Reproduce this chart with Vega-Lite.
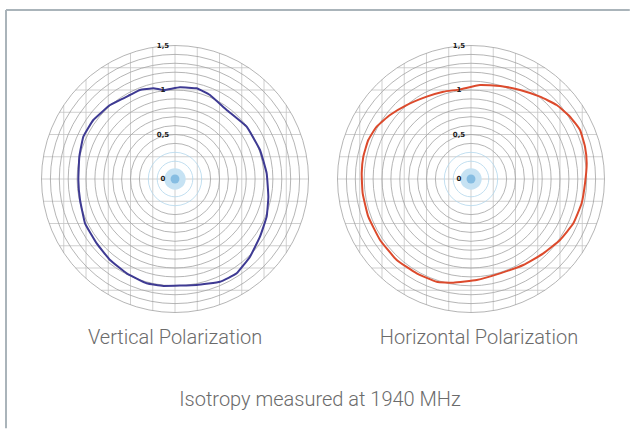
{
  "$schema": "https://vega.github.io/schema/vega-lite/v6.json",
  "width": 626,
  "height": 420,
  "autosize": "none",
  "padding": {"left": 6, "top": 10, "right": 0, "bottom": 0},
  "background": "white",
  "config": {
    "view": {"stroke": null}
  },
  "datasets": {
    "grid": [
      {"a": -1.25, "lo": -0.829, "hi": 0.829},
      {"a": -1.0, "lo": -1.118, "hi": 1.118},
      {"a": -0.75, "lo": -1.299, "hi": 1.299},
      {"a": -0.5, "lo": -1.414, "hi": 1.414},
      {"a": -0.25, "lo": -1.479, "hi": 1.479},
      {"a": 0, "lo": -1.5, "hi": 1.5},
      {"a": 0.25, "lo": -1.479, "hi": 1.479},
      {"a": 0.5, "lo": -1.414, "hi": 1.414},
      {"a": 0.75, "lo": -1.299, "hi": 1.299},
      {"a": 1.0, "lo": -1.118, "hi": 1.118},
      {"a": 1.25, "lo": -0.829, "hi": 0.829}
    ],
    "rings": [
      {"r": 0.1, "kind": "inner"}, {"r": 0.2, "kind": "inner"}, {"r": 0.3, "kind": "inner"},
      {"r": 0.4, "kind": "outer"}, {"r": 0.5, "kind": "outer"}, {"r": 0.6, "kind": "outer"},
      {"r": 0.7, "kind": "outer"}, {"r": 0.8, "kind": "outer"}, {"r": 0.9, "kind": "outer"},
      {"r": 1.0, "kind": "outer"}, {"r": 1.1, "kind": "outer"}, {"r": 1.2, "kind": "outer"},
      {"r": 1.3, "kind": "outer"}, {"r": 1.4, "kind": "outer"}, {"r": 1.5, "kind": "outer"}
    ],
    "blobs": [
      {"r": 0.12, "kind": "halo"},
      {"r": 0.05, "kind": "core"}
    ],
    "ticks": [
      {"t": "0", "r": 0}, {"t": "0,5", "r": 0.5}, {"t": "1", "r": 1}, {"t": "1,5", "r": 1.5}
    ],
    "frame": [
      {"x0": -1.8989, "x1": 5.11, "y0": -2.80, "y1": 1.8989}
    ],
    "vpol": [
      {"i": 1, "u": -0.506, "v": 0.944}, {"i": 2, "u": -0.393, "v": 1.0}, {"i": 3, "u": -0.243, "v": 1.019},
      {"i": 4, "u": -0.124, "v": 1.0}, {"i": 5, "u": 0.056, "v": 1.03}, {"i": 6, "u": 0.243, "v": 1.019},
      {"i": 7, "u": 0.393, "v": 0.944}, {"i": 8, "u": 0.581, "v": 0.775}, {"i": 9, "u": 0.805, "v": 0.588},
      {"i": 10, "u": 0.955, "v": 0.326}, {"i": 11, "u": 1.03, "v": 0.064}, {"i": 12, "u": 1.049, "v": -0.199},
      {"i": 13, "u": 1.03, "v": -0.423}, {"i": 14, "u": 0.955, "v": -0.648}, {"i": 15, "u": 0.843, "v": -0.873},
      {"i": 16, "u": 0.693, "v": -1.06}, {"i": 17, "u": 0.506, "v": -1.154}, {"i": 18, "u": 0.243, "v": -1.191},
      {"i": 19, "u": -0.131, "v": -1.202}, {"i": 20, "u": -0.318, "v": -1.172}, {"i": 21, "u": -0.543, "v": -1.06},
      {"i": 22, "u": -0.73, "v": -0.91}, {"i": 23, "u": -0.88, "v": -0.723}, {"i": 24, "u": -1.011, "v": -0.498},
      {"i": 25, "u": -1.067, "v": -0.236}, {"i": 26, "u": -1.086, "v": -0.011}, {"i": 27, "u": -1.075, "v": 0.251},
      {"i": 28, "u": -1.03, "v": 0.476}, {"i": 29, "u": -0.918, "v": 0.663}, {"i": 30, "u": -0.73, "v": 0.831}
    ],
    "hpol": [
      {"i": 1, "u": -0.124, "v": 1.007}, {"i": 2, "u": 0.101, "v": 1.056}, {"i": 3, "u": 0.326, "v": 1.045},
      {"i": 4, "u": 0.551, "v": 1.0}, {"i": 5, "u": 0.775, "v": 0.925}, {"i": 6, "u": 0.963, "v": 0.831},
      {"i": 7, "u": 1.112, "v": 0.7}, {"i": 8, "u": 1.225, "v": 0.551}, {"i": 9, "u": 1.281, "v": 0.363},
      {"i": 10, "u": 1.3, "v": 0.176}, {"i": 11, "u": 1.281, "v": -0.049}, {"i": 12, "u": 1.243, "v": -0.273},
      {"i": 13, "u": 1.15, "v": -0.498}, {"i": 14, "u": 1.0, "v": -0.685}, {"i": 15, "u": 0.813, "v": -0.835},
      {"i": 16, "u": 0.588, "v": -0.966}, {"i": 17, "u": 0.326, "v": -1.06}, {"i": 18, "u": 0.064, "v": -1.135},
      {"i": 19, "u": -0.199, "v": -1.165}, {"i": 20, "u": -0.386, "v": -1.154}, {"i": 21, "u": -0.61, "v": -1.06},
      {"i": 22, "u": -0.835, "v": -0.91}, {"i": 23, "u": -1.022, "v": -0.685}, {"i": 24, "u": -1.154, "v": -0.423},
      {"i": 25, "u": -1.217, "v": -0.161}, {"i": 26, "u": -1.228, "v": 0.064}, {"i": 27, "u": -1.21, "v": 0.251},
      {"i": 28, "u": -1.154, "v": 0.438}, {"i": 29, "u": -1.06, "v": 0.588}, {"i": 30, "u": -0.91, "v": 0.719},
      {"i": 31, "u": -0.723, "v": 0.831}, {"i": 32, "u": -0.498, "v": 0.925}, {"i": 33, "u": -0.311, "v": 0.981}
    ]
  },
  "layer": [
    {
      "layer": [
        {
          "data": {"name": "frame"},
          "mark": {"type": "rule", "color": "#aab4ba", "strokeWidth": 2},
          "encoding": {
            "x": {"field": "x0", "type": "quantitative", "scale": {"domain": [-1.8989, 5.1348], "nice": false, "zero": false}, "axis": null},
            "y": {"field": "y0", "type": "quantitative", "scale": {"domain": [-2.8202, 1.8989], "nice": false, "zero": false}, "axis": null},
            "y2": {"field": "y1"}
          }
        },
        {
          "data": {"name": "frame"},
          "mark": {"type": "rule", "color": "#aab4ba", "strokeWidth": 2},
          "encoding": {
            "x": {"field": "x0", "type": "quantitative", "scale": {"domain": [-1.8989, 5.1348], "nice": false, "zero": false}, "axis": null},
            "x2": {"field": "x1"},
            "y": {"field": "y1", "type": "quantitative", "scale": {"domain": [-2.8202, 1.8989], "nice": false, "zero": false}, "axis": null}
          }
        },
        {
          "data": {"name": "grid"},
          "mark": {"type": "rule", "color": "#c4c4c4", "strokeWidth": 0.8},
          "encoding": {
            "x": {"field": "a", "type": "quantitative", "scale": {"domain": [-1.8989, 5.1348], "nice": false, "zero": false}, "axis": null},
            "y": {"field": "lo", "type": "quantitative", "scale": {"domain": [-2.8202, 1.8989], "nice": false, "zero": false}, "axis": null},
            "y2": {"field": "hi"}
          }
        },
        {
          "data": {"name": "grid"},
          "mark": {"type": "rule", "color": "#c4c4c4", "strokeWidth": 0.8},
          "encoding": {
            "y": {"field": "a", "type": "quantitative", "scale": {"domain": [-2.8202, 1.8989], "nice": false, "zero": false}, "axis": null},
            "x": {"field": "lo", "type": "quantitative", "scale": {"domain": [-1.8989, 5.1348], "nice": false, "zero": false}, "axis": null},
            "x2": {"field": "hi"}
          }
        },
        {
          "data": {"name": "rings"},
          "mark": {"type": "point", "shape": "circle", "filled": false, "strokeWidth": 0.8, "opacity": 1},
          "encoding": {
            "x": {"datum": 0, "type": "quantitative", "scale": {"domain": [-1.8989, 5.1348], "nice": false, "zero": false}, "axis": null},
            "y": {"datum": 0, "type": "quantitative", "scale": {"domain": [-2.8202, 1.8989], "nice": false, "zero": false}, "axis": null},
            "size": {"field": "r", "type": "quantitative", "legend": null, "scale": {"type": "pow", "exponent": 2, "domain": [0, 1.5], "range": [0, 71289], "zero": true}},
            "stroke": {"field": "kind", "type": "nominal", "legend": null, "scale": {"domain": ["inner", "outer"], "range": ["#b3d7ec", "#a2a2a2"]}}
          }
        },
        {
          "data": {"name": "blobs"},
          "mark": {"type": "point", "shape": "circle", "filled": true, "opacity": 1, "strokeWidth": 0},
          "encoding": {
            "x": {"datum": 0, "type": "quantitative", "scale": {"domain": [-1.8989, 5.1348], "nice": false, "zero": false}, "axis": null},
            "y": {"datum": 0, "type": "quantitative", "scale": {"domain": [-2.8202, 1.8989], "nice": false, "zero": false}, "axis": null},
            "size": {"field": "r", "type": "quantitative", "legend": null, "scale": {"type": "pow", "exponent": 2, "domain": [0, 1.5], "range": [0, 71289], "zero": true}},
            "fill": {"field": "kind", "type": "nominal", "legend": null, "scale": {"domain": ["halo", "core"], "range": ["#c6e2f3", "#86bde2"]}},
            "order": {"field": "r", "sort": "descending"}
          }
        },
        {
          "data": {"name": "vpol"},
          "mark": {"type": "line", "interpolate": "cardinal-closed", "tension": 0.7, "color": "#3e3a93", "strokeWidth": 2},
          "encoding": {
            "x": {"field": "u", "type": "quantitative", "scale": {"domain": [-1.8989, 5.1348], "nice": false, "zero": false}, "axis": null},
            "y": {"field": "v", "type": "quantitative", "scale": {"domain": [-2.8202, 1.8989], "nice": false, "zero": false}, "axis": null},
            "order": {"field": "i", "type": "quantitative"}
          }
        },
        {
          "data": {"name": "ticks"},
          "mark": {"type": "text", "dx": -12, "fontSize": 7, "fontWeight": "bold", "font": "DejaVu Sans", "color": "#222222", "baseline": "middle"},
          "encoding": {
            "x": {"datum": 0, "type": "quantitative", "scale": {"domain": [-1.8989, 5.1348], "nice": false, "zero": false}, "axis": null},
            "y": {"field": "r", "type": "quantitative", "scale": {"domain": [-2.8202, 1.8989], "nice": false, "zero": false}, "axis": null},
            "text": {"field": "t"}
          }
        },
        {
          "data": {"values": [{"label": "Vertical Polarization", "u": 0, "v": -1.854}, {"label": "Isotropy measured at 1940 MHz", "u": 1.629, "v": -2.551}]},
          "mark": {"type": "text", "font": "Roboto", "fontWeight": 300, "fontSize": 20, "color": "#6b6b6b", "baseline": "alphabetic"},
          "encoding": {
            "x": {"field": "u", "type": "quantitative", "scale": {"domain": [-1.8989, 5.1348], "nice": false, "zero": false}, "axis": null},
            "y": {"field": "v", "type": "quantitative", "scale": {"domain": [-2.8202, 1.8989], "nice": false, "zero": false}, "axis": null},
            "text": {"field": "label"}
          }
        }
      ]
    },
    {
      "layer": [
        {
          "data": {"name": "grid"},
          "mark": {"type": "rule", "color": "#c4c4c4", "strokeWidth": 0.8},
          "encoding": {
            "x": {"field": "a", "type": "quantitative", "scale": {"domain": [-5.2247, 1.809], "nice": false, "zero": false}, "axis": null},
            "y": {"field": "lo", "type": "quantitative", "scale": {"domain": [-2.8202, 1.8989], "nice": false, "zero": false}, "axis": null},
            "y2": {"field": "hi"}
          }
        },
        {
          "data": {"name": "grid"},
          "mark": {"type": "rule", "color": "#c4c4c4", "strokeWidth": 0.8},
          "encoding": {
            "y": {"field": "a", "type": "quantitative", "scale": {"domain": [-2.8202, 1.8989], "nice": false, "zero": false}, "axis": null},
            "x": {"field": "lo", "type": "quantitative", "scale": {"domain": [-5.2247, 1.809], "nice": false, "zero": false}, "axis": null},
            "x2": {"field": "hi"}
          }
        },
        {
          "data": {"name": "rings"},
          "mark": {"type": "point", "shape": "circle", "filled": false, "strokeWidth": 0.8, "opacity": 1},
          "encoding": {
            "x": {"datum": 0, "type": "quantitative", "scale": {"domain": [-5.2247, 1.809], "nice": false, "zero": false}, "axis": null},
            "y": {"datum": 0, "type": "quantitative", "scale": {"domain": [-2.8202, 1.8989], "nice": false, "zero": false}, "axis": null},
            "size": {"field": "r", "type": "quantitative", "legend": null, "scale": {"type": "pow", "exponent": 2, "domain": [0, 1.5], "range": [0, 71289], "zero": true}},
            "stroke": {"field": "kind", "type": "nominal", "legend": null, "scale": {"domain": ["inner", "outer"], "range": ["#b3d7ec", "#a2a2a2"]}}
          }
        },
        {
          "data": {"name": "blobs"},
          "mark": {"type": "point", "shape": "circle", "filled": true, "opacity": 1, "strokeWidth": 0},
          "encoding": {
            "x": {"datum": 0, "type": "quantitative", "scale": {"domain": [-5.2247, 1.809], "nice": false, "zero": false}, "axis": null},
            "y": {"datum": 0, "type": "quantitative", "scale": {"domain": [-2.8202, 1.8989], "nice": false, "zero": false}, "axis": null},
            "size": {"field": "r", "type": "quantitative", "legend": null, "scale": {"type": "pow", "exponent": 2, "domain": [0, 1.5], "range": [0, 71289], "zero": true}},
            "fill": {"field": "kind", "type": "nominal", "legend": null, "scale": {"domain": ["halo", "core"], "range": ["#c6e2f3", "#86bde2"]}},
            "order": {"field": "r", "sort": "descending"}
          }
        },
        {
          "data": {"name": "hpol"},
          "mark": {"type": "line", "interpolate": "cardinal-closed", "tension": 0.6, "color": "#dc4a2c", "strokeWidth": 2},
          "encoding": {
            "x": {"field": "u", "type": "quantitative", "scale": {"domain": [-5.2247, 1.809], "nice": false, "zero": false}, "axis": null},
            "y": {"field": "v", "type": "quantitative", "scale": {"domain": [-2.8202, 1.8989], "nice": false, "zero": false}, "axis": null},
            "order": {"field": "i", "type": "quantitative"}
          }
        },
        {
          "data": {"name": "ticks"},
          "mark": {"type": "text", "dx": -12, "fontSize": 7, "fontWeight": "bold", "font": "DejaVu Sans", "color": "#222222", "baseline": "middle"},
          "encoding": {
            "x": {"datum": 0, "type": "quantitative", "scale": {"domain": [-5.2247, 1.809], "nice": false, "zero": false}, "axis": null},
            "y": {"field": "r", "type": "quantitative", "scale": {"domain": [-2.8202, 1.8989], "nice": false, "zero": false}, "axis": null},
            "text": {"field": "t"}
          }
        },
        {
          "data": {"values": [{"label": "Horizontal Polarization", "u": 0.09, "v": -1.854}]},
          "mark": {"type": "text", "font": "Roboto", "fontWeight": 300, "fontSize": 20, "color": "#6b6b6b", "baseline": "alphabetic"},
          "encoding": {
            "x": {"field": "u", "type": "quantitative", "scale": {"domain": [-5.2247, 1.809], "nice": false, "zero": false}, "axis": null},
            "y": {"field": "v", "type": "quantitative", "scale": {"domain": [-2.8202, 1.8989], "nice": false, "zero": false}, "axis": null},
            "text": {"field": "label"}
          }
        }
      ]
    }
  ],
  "resolve": {"scale": {"x": "independent"}}
}
